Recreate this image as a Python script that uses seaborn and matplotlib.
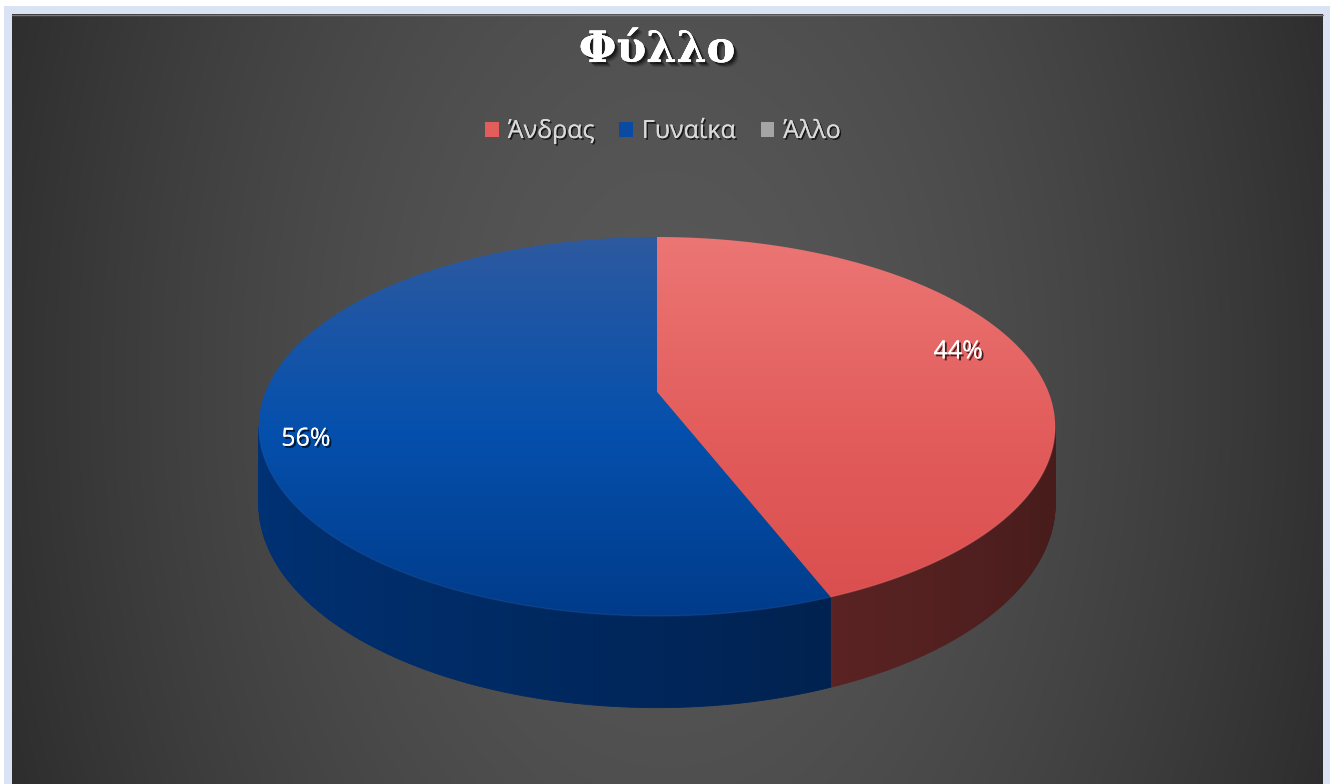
import numpy as np
import matplotlib
matplotlib.use("Agg")
import matplotlib.pyplot as plt
import matplotlib.patheffects as pe
from matplotlib.patches import Polygon, Rectangle, Patch
from matplotlib.colors import to_rgb
import seaborn as sns

# ---- data -------------------------------------------------------------
title = "Φύλλο"
categories = ["Άνδρας", "Γυναίκα", "Άλλο"]
shares = [44, 56, 0]
slice_colors = ["#e35d5b", "#0a4aa0", "#a5a5a5"]

# top-face gradient stops (top → bottom) and side-wall base colours
top_gradients = [
    ["#ec7775", "#e25d5c", "#d94c4c"],
    ["#2f5a9f", "#0550ad", "#003a88"],
    ["#c0c0c0", "#a5a5a5", "#8a8a8a"],
]
side_colors = ["#662727", "#00265a", "#555555"]

sns.set_theme(style="dark")
plt.rcParams["font.family"] = ["Open Sans", "DejaVu Sans"]

W, H = 1330, 784
fig = plt.figure(figsize=(W / 100, H / 100), dpi=100, facecolor="white")
ax = fig.add_axes([0, 0, 1, 1])
ax.set_xlim(0, W)
ax.set_ylim(H, 0)
ax.axis("off")

# ---- chart frame and dark radial background ----------------------------
ax.add_patch(Rectangle((4, 6), W - 4, H - 6, facecolor="#dae3f3",
                       edgecolor="none", zorder=0))
x0, x1, y0, y1 = 12, 1323, 14, H
gx = np.linspace(x0, x1, 500)
gy = np.linspace(y0, y1, 300)
GX, GY = np.meshgrid(gx, gy)
rr = np.clip(np.sqrt(((GX - 667) / 700) ** 2 + ((GY - 380) / 1100) ** 2), 0, 1)
c = 0.345 - (0.345 - 0.18) * rr ** 1.6
ax.imshow(np.dstack([c, c, c]), extent=(x0, x1, y1, y0), origin="upper",
          zorder=1, interpolation="bilinear", aspect="auto")
ax.plot([x0, x1], [y0 + 0.5, y0 + 0.5], color="#7a7a7a", lw=1, zorder=2)

# ---- 3-D pie geometry (perspective projection of a tilted disc) ------
cx, cy = 657, 392
A, B, k = 391.5, 183.2, 0.182
depth = 75


def project(theta, rad=1.0, drop=0.0):
    u = rad * np.sin(theta)
    w = rad * np.cos(theta)
    d = 1 + k * w
    return cx + A * u / d, cy - B * w / d + drop / d


def shade(col, f):
    r, g, b = to_rgb(col)
    return (min(r * f, 1), min(g * f, 1), min(b * f, 1))


fractions = np.array(shares, dtype=float) / np.sum(shares)
bounds = np.concatenate([[0], np.cumsum(fractions)]) * 2 * np.pi
vis_lo = np.arccos(-k)
vis_hi = 2 * np.pi - vis_lo

# side walls, drawn as thin shaded strips
for i in range(len(shares)):
    t0, t1 = bounds[i], bounds[i + 1]
    a, b = max(t0, vis_lo), min(t1, vis_hi)
    if b <= a:
        continue
    n = max(int((b - a) / 0.01), 2)
    ts = np.linspace(a, b, n + 1)
    for j in range(n):
        ta, tb = ts[j], ts[j + 1]
        xa, ya = project(ta)
        xb, yb = project(tb)
        xa2, ya2 = project(ta, drop=depth)
        xb2, yb2 = project(tb, drop=depth)
        f = 1 - 0.3 * np.sin(0.5 * (ta + tb))
        col = shade(side_colors[i], f)
        ax.add_patch(Polygon([(xa, ya), (xb, yb), (xb2, yb2), (xa2, ya2)],
                             closed=True, facecolor=col, edgecolor=col,
                             lw=0.6, zorder=3))

# top faces with vertical gradient fills
ext_y0, ext_y1 = 230, 630
grad_y = np.linspace(ext_y0, ext_y1, 256)
for i in range(len(shares)):
    t0, t1 = bounds[i], bounds[i + 1]
    if t1 - t0 <= 0:
        continue
    ts = np.linspace(t0, t1, 300)
    px, py = project(ts)
    verts = [(cx, cy)] + list(zip(px, py))
    poly = Polygon(verts, closed=True, facecolor="none", edgecolor="none",
                   zorder=4)
    ax.add_patch(poly)
    stops = [to_rgb(s) for s in top_gradients[i]]
    pos = [ext_y0, 430, ext_y1]
    rgb = np.stack([np.interp(grad_y, pos, [s[ch] for s in stops])
                    for ch in range(3)], axis=1)
    img = np.repeat(rgb[:, None, :], 4, axis=1)
    im = ax.imshow(img, extent=(240, 1075, ext_y1, ext_y0), origin="upper",
                   zorder=4, interpolation="bilinear", aspect="auto")
    im.set_clip_path(poly)
    # faint light rim along the visible front edge
    a, b = max(t0, vis_lo), min(t1, vis_hi)
    if b > a:
        rt = np.linspace(a, b, 200)
        rx, ry = project(rt)
        ax.plot(rx, ry, color=shade(top_gradients[i][0], 1.1), lw=1.0,
                alpha=0.25, zorder=5)

# ---- percentage labels (placed on an inner label ellipse) -------------
lab_cx, lab_cy, lab_rx, lab_ry = cx - 25, cy + 3.5, 332, 233
shadow = [pe.withSimplePatchShadow(offset=(1.5, -1.5), shadow_rgbFace="black",
                                   alpha=0.7), pe.Normal()]
for i in range(len(shares)):
    if shares[i] <= 0:
        continue
    mid = 0.5 * (bounds[i] + bounds[i + 1])
    lx = lab_cx + lab_rx * np.sin(mid)
    ly = lab_cy - lab_ry * np.cos(mid)
    ax.text(lx, ly, f"{shares[i]:.0f}%", ha="center", va="center",
            fontsize=18, color="white", zorder=6, path_effects=shadow)

# ---- title and legend -------------------------------------------------
title_fx = [pe.withSimplePatchShadow(offset=(o, -o), shadow_rgbFace="black",
                                     alpha=a)
            for o, a in [(3.5, 0.15), (2.5, 0.3), (1.5, 0.45)]] + [pe.Normal()]
ax.text(657, 50, title, ha="center", va="center", fontsize=31,
        fontweight="bold", family=["DejaVu Serif"], color="white", zorder=6,
        path_effects=title_fx)

handles = [Patch(facecolor=slice_colors[i], edgecolor="none",
                 label=categories[i]) for i in range(len(categories))]
leg = ax.legend(handles=handles, loc="center", ncol=3, frameon=False,
                bbox_to_anchor=(663 / W, 1 - 131 / H),
                bbox_transform=fig.transFigure, fontsize=18,
                handlelength=0.55, handleheight=0.55, handletextpad=0.35,
                columnspacing=1.0)
for t in leg.get_texts():
    t.set_color("#d9d9d9")
    t.set_path_effects([pe.withSimplePatchShadow(offset=(1.2, -1.2),
                                                 shadow_rgbFace="black",
                                                 alpha=0.7), pe.Normal()])
leg.set_zorder(7)

fig.savefig("out.png", dpi=100, facecolor=fig.get_facecolor())
